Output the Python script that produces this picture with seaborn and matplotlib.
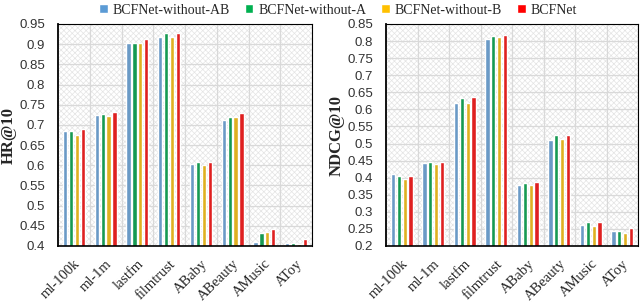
import numpy as np
import pandas as pd
import matplotlib
matplotlib.use('Agg')
import matplotlib.pyplot as plt
import matplotlib.transforms as mtrans
from matplotlib.patches import Rectangle
import seaborn as sns

datasets = ['ml-100k', 'ml-1m', 'lastfm', 'filmtrust', 'ABaby', 'ABeauty', 'AMusic', 'AToy']
models = ['BCFNet-without-AB', 'BCFNet-without-A', 'BCFNet-without-B', 'BCFNet']
colors = ['#5B9BD5', '#00B050', '#FFC000', '#FF0000']

hr_no_ab = [0.685, 0.725, 0.902, 0.917, 0.6025, 0.7125, 0.411, 0.408]
hr_no_a = [0.684, 0.727, 0.904, 0.927, 0.607, 0.719, 0.4325, 0.407]
hr_no_b = [0.675, 0.7225, 0.904, 0.918, 0.601, 0.719, 0.435, 0.406]
hr_full = [0.690, 0.7325, 0.912, 0.927, 0.607, 0.729, 0.443, 0.418]

ndcg_no_ab = [0.410, 0.443, 0.620, 0.8075, 0.380, 0.511, 0.261, 0.245]
ndcg_no_a = [0.405, 0.445, 0.634, 0.816, 0.385, 0.524, 0.269, 0.245]
ndcg_no_b = [0.395, 0.439, 0.618, 0.812, 0.379, 0.512, 0.259, 0.237]
ndcg_full = [0.405, 0.447, 0.635, 0.818, 0.387, 0.526, 0.270, 0.253]

hr_ticks = [0.4, 0.45, 0.5, 0.55, 0.6, 0.65, 0.7, 0.75, 0.8, 0.85, 0.9, 0.95]
ndcg_ticks = [0.2, 0.25, 0.3, 0.35, 0.4, 0.45, 0.5, 0.55, 0.6, 0.65, 0.7, 0.75, 0.8, 0.85]


def long_df(series):
    rows = []
    for m, vals in zip(models, series):
        for d, v in zip(datasets, vals):
            rows.append({'dataset': d, 'model': m, 'value': v})
    return pd.DataFrame(rows)


hr_df = long_df([hr_no_ab, hr_no_a, hr_no_b, hr_full])
ndcg_df = long_df([ndcg_no_ab, ndcg_no_a, ndcg_no_b, ndcg_full])

sns.set_style('white')
plt.rcParams['hatch.linewidth'] = 0.5

fig = plt.figure(figsize=(6.4, 3.02), dpi=100)
ax1 = fig.add_axes([58 / 640, 1 - 246 / 302, 254 / 640, 222 / 302])
ax2 = fig.add_axes([386 / 640, 1 - 246 / 302, 252 / 640, 222 / 302])


def draw(ax, df, ticks, ylabel):
    # light crosshatched background like the excel chart
    ax.add_patch(Rectangle((0, 0), 1, 1, transform=ax.transAxes, facecolor='white',
                           edgecolor='#e4e4e4', hatch='xxxxxx', lw=0, zorder=0))
    sns.barplot(data=df, x='dataset', y='value', hue='model', palette=colors,
                width=0.75, gap=0.28, ax=ax, legend=False, zorder=3)
    ax.set_ylim(ticks[0], ticks[-1])
    ax.set_yticks(ticks)
    ax.set_yticklabels([('%g' % t) for t in ticks], family='Liberation Sans', fontsize=9.5,
                       color='#333333')
    ax.set_xlim(-0.5, len(datasets) - 0.5)
    ax.set_xticks(np.arange(len(datasets)) + 0.5, minor=True)
    ax.set_xticklabels(datasets, rotation=45, ha='right', va='top', rotation_mode='anchor',
                       family='Liberation Serif', fontsize=10.5)
    off = mtrans.ScaledTranslation(3 / 100, 0, fig.dpi_scale_trans)
    for lab in ax.get_xticklabels():
        lab.set_transform(lab.get_transform() + off)
    ax.grid(True, axis='y', color='#d9d9d9', lw=0.9, zorder=1)
    ax.grid(True, axis='x', which='minor', color='#d9d9d9', lw=0.9, zorder=1)
    ax.set_axisbelow(True)
    ax.tick_params(axis='both', which='both', length=0)
    ax.tick_params(axis='y', pad=9.5)
    ax.tick_params(axis='x', pad=8)
    ax.set_xlabel('')
    ax.set_ylabel(ylabel, family='Liberation Serif', fontweight='bold', fontsize=12, labelpad=2)
    for s in ax.spines.values():
        s.set_color('black')
        s.set_linewidth(0.8)
        s.set_zorder(5)
    ax.spines['left'].set_linewidth(1.3)
    ax.spines['bottom'].set_linewidth(1.2)


draw(ax1, hr_df, hr_ticks, 'HR@10')
draw(ax2, ndcg_df, ndcg_ticks, 'NDCG@10')

handles = [Rectangle((0, 0), 1, 1, facecolor=c) for c in colors]
fig.legend(handles, models, loc='center', bbox_to_anchor=(338 / 640, 1 - 10 / 302), ncol=4,
           frameon=False, prop={'family': 'Liberation Serif', 'size': 10},
           handlelength=0.6, handleheight=0.6, handletextpad=0.35, columnspacing=1.1)

fig.savefig('out.png', dpi=100)
